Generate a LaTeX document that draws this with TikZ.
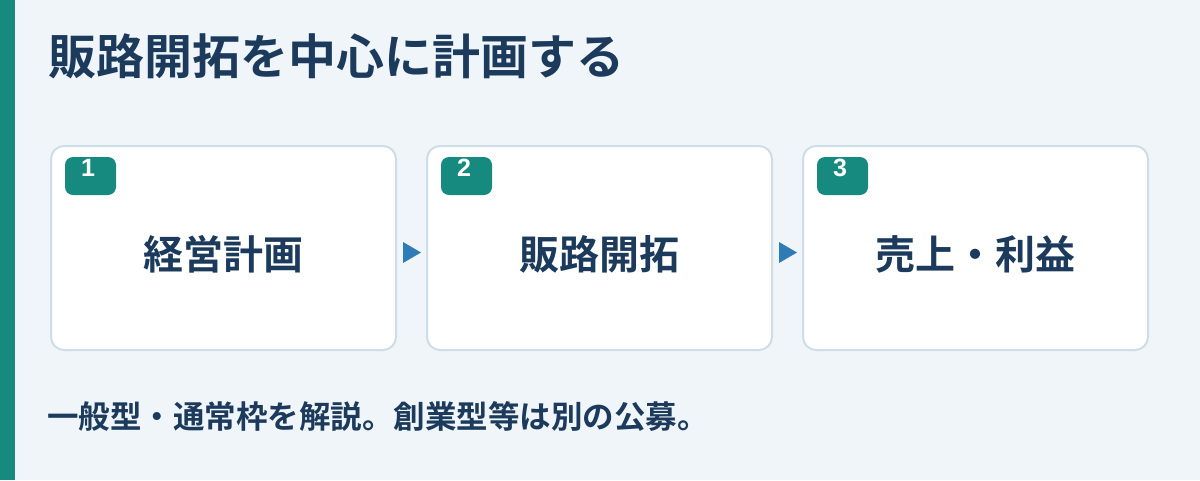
\documentclass[tikz,border=0pt]{standalone}
\usepackage{fontspec}
\newfontfamily\jpb{Noto Sans CJK JP Bold}
\newfontfamily\numf{Liberation Sans}
\definecolor{bgc}{HTML}{F0F5F9}
\definecolor{teal}{HTML}{178A80}
\definecolor{navy}{HTML}{1B3A5C}
\definecolor{bord}{HTML}{CFDDE6}
\definecolor{arr}{HTML}{2E7BB5}
\tikzset{
  card/.style={draw=bord, line width=2pt, fill=white, rounded corners=13pt},
  badge/.style={fill=teal, rounded corners=8pt},
  numtxt/.style={text=white, font=\numf\bfseries\fontsize{25}{25}\selectfont, inner sep=0pt, anchor=center},
  cardtxt/.style={text=navy, font=\jpb\fontsize{40}{40}\selectfont, inner sep=0pt, anchor=center},
  arrowtri/.style={fill=arr},
}
\begin{document}
\begin{tikzpicture}[x=1pt,y=-1pt]
\useasboundingbox (0,0) rectangle (1200,480);
\fill[bgc] (0,0) rectangle (1200,480);
\fill[teal] (0,0) rectangle (15,480);
\node[text=navy, font=\jpb\fontsize{48}{48}\selectfont, inner sep=0pt, anchor=west] (title) at (48,56) {販路開拓を中心に計画する};
% cards
\foreach \i/\x/\t in {1/51/経営計画, 2/427/販路開拓, 3/803/売上・利益}{
  \draw[card] (\x,146) rectangle (\x+345,350);
  \coordinate (c\i) at (\x+172.5,254);
  \node[cardtxt] (t\i) at (c\i) {\t};
  \fill[badge] (\x+14,157) rectangle (\x+65,195);
  \node[numtxt] (n\i) at (\x+37,168) {\i};
}
\foreach \x in {403,779}{
  \fill[arrowtri] (\x,242) -- (\x+18,252.5) -- (\x,263) -- cycle;
}
\node[text=navy, font=\jpb\fontsize{31.5}{31.5}\selectfont, inner sep=0pt, anchor=west] (foot) at (47,416) {一般型・通常枠を解説。創業型等は別の公募。};
\end{tikzpicture}
\end{document}
